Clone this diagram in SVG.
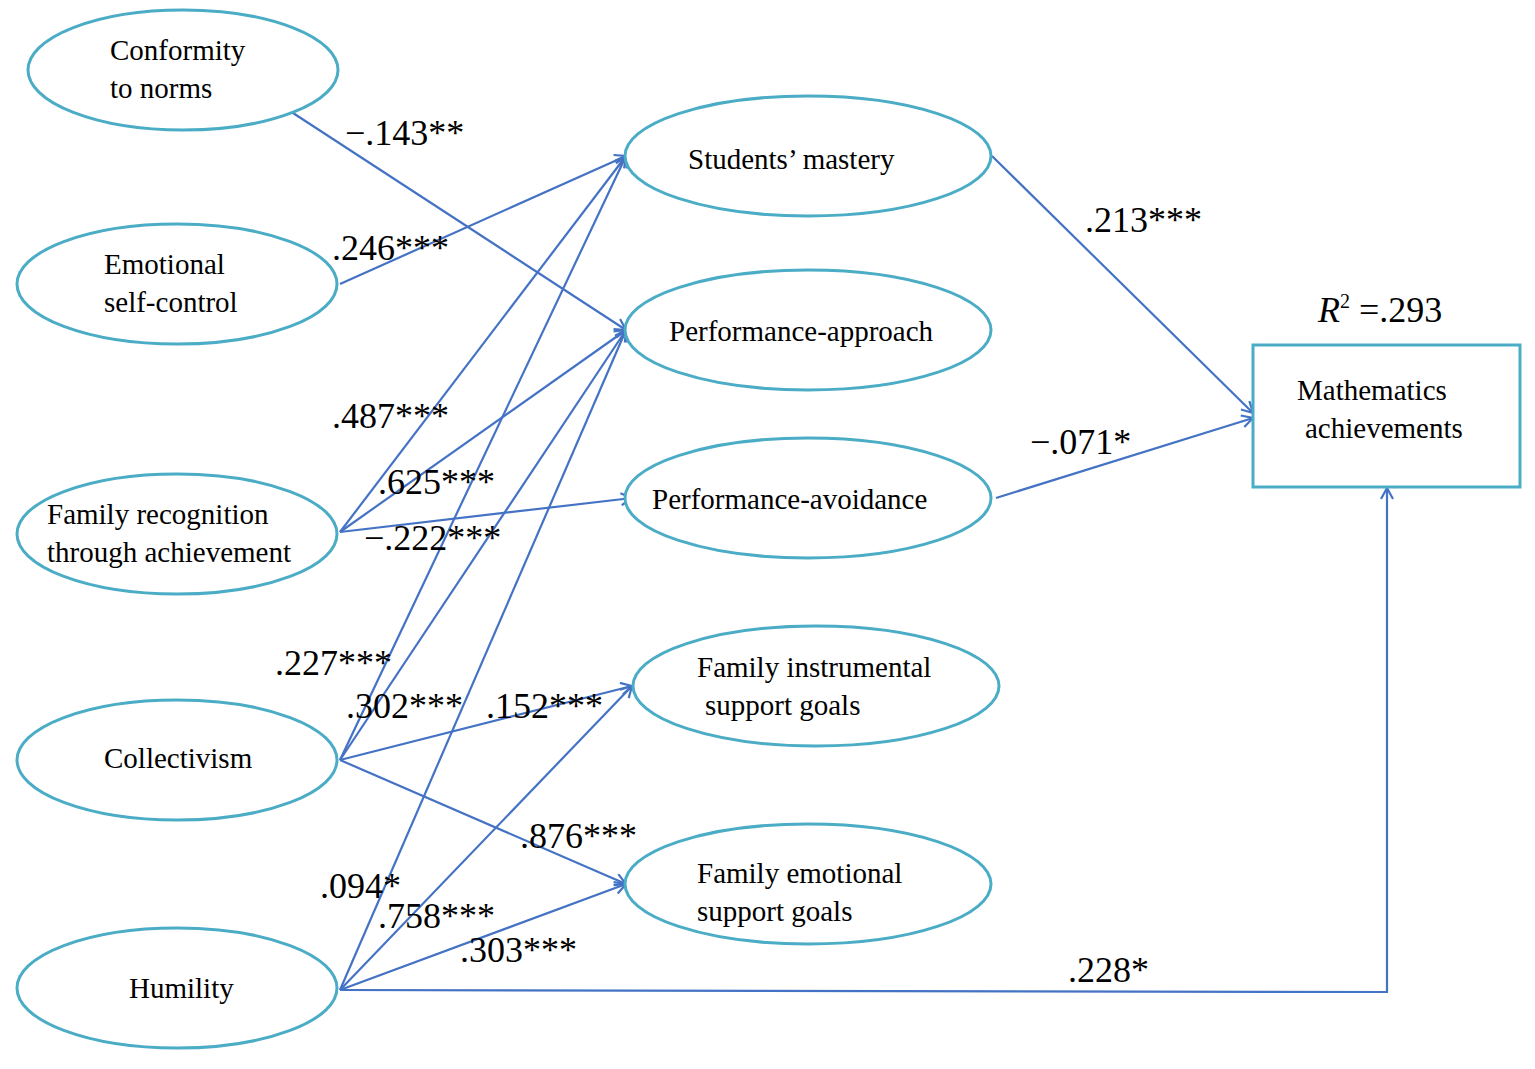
<svg xmlns="http://www.w3.org/2000/svg" width="1535" height="1069" viewBox="0 0 1535 1069">
<defs>
<style>
.n{fill:#fff;stroke:#4bacc6;stroke-width:3}
.t{font-family:"Liberation Serif",serif;font-size:29px;fill:#000}
.l{font-family:"Liberation Serif",serif;font-size:36px;fill:#000}
.c line,.c polyline{stroke:#4472c4;stroke-width:2.2;fill:none;marker-end:url(#a)}
</style>
<marker id="a" markerWidth="14" markerHeight="14" refX="12" refY="7" orient="auto" markerUnits="userSpaceOnUse"><path d="M1,1 L12,7 L1,13" fill="none" stroke="#4472c4" stroke-width="2.2"/></marker>
</defs>
<rect width="1535" height="1069" fill="#fff"/>
<g class="c">
<line x1="293" y1="113" x2="626" y2="330"/>
<line x1="340" y1="284" x2="626" y2="156"/>
<line x1="340" y1="532" x2="626" y2="156"/>
<line x1="340" y1="532" x2="626" y2="330"/>
<line x1="340" y1="532" x2="632" y2="498"/>
<line x1="340" y1="760" x2="626" y2="156"/>
<line x1="340" y1="760" x2="626" y2="330"/>
<line x1="340" y1="760" x2="632" y2="686"/>
<line x1="340" y1="760" x2="626" y2="884"/>
<line x1="340" y1="990" x2="626" y2="330"/>
<line x1="340" y1="990" x2="632" y2="686"/>
<line x1="340" y1="990" x2="626" y2="884"/>
<polyline points="340,990 1387,992 1387,488"/>
<line x1="992" y1="156" x2="1253" y2="413"/>
<line x1="996" y1="498" x2="1253" y2="418"/>
</g>
<g id="conformity"><ellipse class="n" cx="183" cy="70" rx="155" ry="60"/><text class="t" x="110" y="60">Conformity</text><text class="t" x="110" y="98">to norms</text></g>
<g id="emotional"><ellipse class="n" cx="177" cy="284" rx="160" ry="60"/><text class="t" x="104" y="274">Emotional</text><text class="t" x="104" y="312">self-control</text></g>
<g id="familyrec"><ellipse class="n" cx="177" cy="534" rx="160" ry="60"/><text class="t" x="47" y="524">Family recognition</text><text class="t" x="47" y="562">through achievement</text></g>
<g id="collectivism"><ellipse class="n" cx="177" cy="760" rx="160" ry="60"/><text class="t" x="104" y="768">Collectivism</text></g>
<g id="humility"><ellipse class="n" cx="177" cy="988" rx="160" ry="60"/><text class="t" x="129" y="998">Humility</text></g>
<g id="mastery"><ellipse class="n" cx="808" cy="156" rx="183" ry="60"/><text class="t" x="688" y="169">Students’  mastery</text></g>
<g id="approach"><ellipse class="n" cx="808" cy="330" rx="183" ry="60"/><text class="t" x="669" y="341">Performance-approach</text></g>
<g id="avoidance"><ellipse class="n" cx="808" cy="498" rx="183" ry="60"/><text class="t" x="652" y="509">Performance-avoidance</text></g>
<g id="instrumental"><ellipse class="n" cx="816" cy="686" rx="183" ry="60"/><text class="t" x="697" y="677">Family instrumental</text><text class="t" x="705" y="715">support goals</text></g>
<g id="emotsupport"><ellipse class="n" cx="808" cy="884" rx="183" ry="60"/><text class="t" x="697" y="883">Family emotional</text><text class="t" x="697" y="921">support goals</text></g>
<g id="math"><rect class="n" x="1253" y="345" width="267" height="142"/><text class="t" x="1297" y="400">Mathematics</text><text class="t" x="1305" y="438">achievements</text></g>
<g id="labels">
<text class="l" x="345" y="145">−.143**</text>
<text class="l" x="332" y="260">.246***</text>
<text class="l" x="1085" y="232">.213***</text>
<text class="l" x="1318" y="322" font-style="italic">R<tspan font-size="20" dy="-14" font-style="normal">2</tspan><tspan dy="14" font-style="normal"> =.293</tspan></text>
<text class="l" x="332" y="428">.487***</text>
<text class="l" x="1030" y="454">−.071*</text>
<text class="l" x="378" y="494">.625***</text>
<text class="l" x="364" y="550">−.222***</text>
<text class="l" x="275" y="675">.227***</text>
<text class="l" x="346" y="718">.302***</text>
<text class="l" x="486" y="718">.152***</text>
<text class="l" x="520" y="848">.876***</text>
<text class="l" x="320" y="898">.094*</text>
<text class="l" x="378" y="928">.758***</text>
<text class="l" x="460" y="962">.303***</text>
<text class="l" x="1068" y="982">.228*</text>
</g>
</svg>
